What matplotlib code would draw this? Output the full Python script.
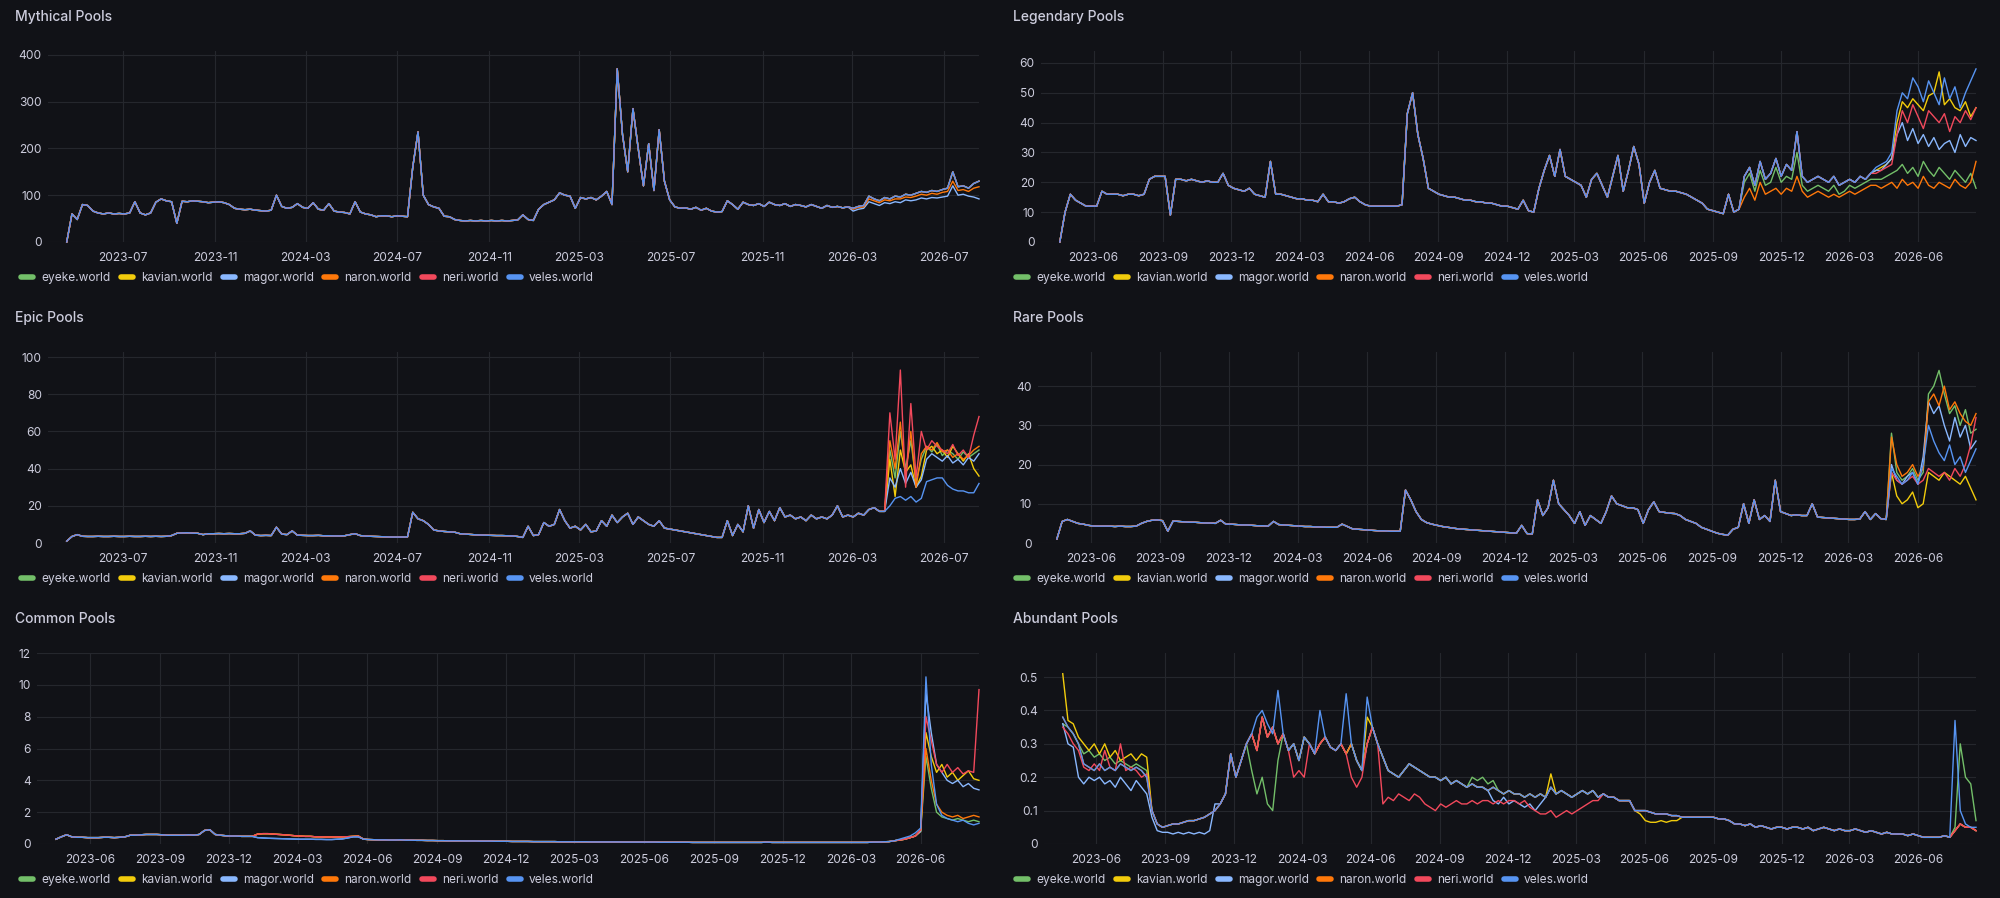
import numpy as np
import pandas as pd
import matplotlib
matplotlib.use("Agg")
import matplotlib.pyplot as plt
import matplotlib.dates as mdates
from matplotlib.lines import Line2D

plt.rcParams["font.family"] = ["Inter", "DejaVu Sans"]

## weekly samples, 2023-04-17 .. 2026-08-17
weeks = pd.date_range("2023-04-17", periods=175, freq="7D")
servers = ["eyeke.world", "kavian.world", "magor.world", "naron.world", "neri.world", "veles.world"]
colors = ["#73BF69", "#F2CC0C", "#8AB8FF", "#FF780A", "#F2495C", "#5794F2"]


def splice(base, start, vals):
    out = list(base)
    out[start:start + len(vals)] = vals
    return out


## ---------------- Mythical ----------------
myth_base = [
    0, 60, 48, 80, 78, 66, 62, 60, 62, 60,
    61, 60, 62, 86, 62, 58, 62, 85, 92, 88,
    86, 40, 87, 86, 88, 87, 86, 84, 85, 86,
    84, 80, 72, 70, 69, 70, 68, 67, 66, 68,
    100, 76, 72, 74, 82, 74, 72, 84, 70, 68,
    82, 66, 64, 63, 60, 86, 64, 60, 58, 54,
    56, 56, 54, 56, 55, 54, 160, 235, 100, 80,
    75, 72, 55, 54, 48, 46, 45, 46, 45, 46,
    45, 46, 45, 46, 45, 46, 47, 58, 48, 46,
    70, 80, 85, 90, 105, 100, 98, 72, 95, 92,
    95, 90, 98, 108, 80, 370, 230, 150, 285, 200,
    120, 210, 110, 240, 130, 90, 75, 72, 73, 70,
    74, 68, 72, 66, 64, 65, 88, 80, 70, 85,
    80, 78, 82, 76, 85, 80, 78, 82, 76, 80,
    78, 75, 80, 76, 72, 78, 74, 76, 73, 75,
    72, 76, 78, 98, 92, 88, 95, 92, 98, 96,
    102, 100, 104, 108, 106, 110, 108, 112, 115, 150,
    118, 120, 115, 125, 130]
myth_magor_tail = [66, 70, 72, 86, 82, 78, 84, 82, 86, 84, 90, 88, 90, 94, 92, 95, 94, 96, 98, 120,
                   100, 102, 98, 96, 92]
myth_naron_tail = [70, 74, 75, 92, 88, 84, 90, 88, 92, 92, 96, 95, 98, 102, 100, 104, 102, 106, 108, 130,
                   110, 112, 108, 115, 118]

## ---------------- Legendary ----------------
leg_base = [
    0, 10, 16, 14, 13, 12, 12, 12, 17, 16,
    16, 16, 15.5, 16, 16, 15.5, 16, 21, 22, 22,
    22, 9, 21, 21, 20.5, 21, 20.5, 20, 20.5, 20,
    20, 23, 19, 18, 17.5, 17, 18, 16, 15.5, 15,
    27, 16, 16, 15.5, 15, 14.5, 14.5, 14, 14, 13.5,
    16, 13.5, 13.5, 13, 13.5, 14.5, 15, 13.5, 12.5, 12,
    12, 12, 12, 12, 12, 12.5, 43, 50, 36, 28,
    18, 17, 16, 15.5, 15, 15, 14.5, 14, 14, 13.5,
    13.5, 13, 13, 12.5, 12, 12, 11.5, 11, 14, 10.5,
    10, 18, 24, 29, 22, 31, 22, 21, 20, 19,
    15, 21, 23, 19, 15, 22, 29, 17, 24, 32,
    26, 13, 20, 24, 18, 17.5, 17, 17, 16.5, 16,
    15, 14, 13, 11, 10.5, 10, 9.5, 16, 10, 11,
    22, 25, 19, 27, 21, 23, 28, 22, 26, 24,
    37, 22, 20, 21, 22, 21, 20, 22, 19, 20,
    21, 20, 22, 21, 23]
leg_naron_mid = [15, 18, 14, 20, 16, 17, 18, 16, 18, 17, 22, 17, 15, 16, 17, 16, 15, 16, 15, 16,
                 17, 16, 17, 18, 19]
leg_eyeke_mid = [20, 23, 17, 24, 19, 20, 25, 20, 22, 21, 30, 19, 17, 18, 19, 18, 17, 19, 16, 17,
                 19, 18, 19, 20, 21]
leg_tails = {
    "eyeke.world": [21, 21, 22, 23, 24, 26, 23, 25, 22, 27, 24, 22, 25, 23, 21, 24, 22, 20, 23, 18],
    "kavian.world": [24, 25, 26, 28, 40, 47, 45, 48, 46, 44, 49, 50, 57, 46, 48, 45, 44, 47, 42, 45],
    "magor.world": [24, 24, 26, 28, 36, 40, 34, 38, 33, 36, 32, 35, 31, 33, 34, 30, 36, 32, 35, 34],
    "naron.world": [19, 18, 19, 20, 18, 21, 19, 20, 18, 22, 19, 18, 20, 19, 18, 21, 19, 18, 20, 27],
    "neri.world": [23, 24, 25, 26, 36, 44, 40, 46, 42, 38, 44, 42, 40, 43, 37, 42, 40, 44, 41, 45],
    "veles.world": [25, 26, 27, 30, 44, 50, 48, 55, 52, 47, 54, 50, 46, 55, 48, 52, 45, 50, 54, 58],
}

## ---------------- Epic ----------------
epic_base = [
    1, 3.5, 4.5, 3.6, 3.5, 3.5, 3.6, 3.5, 3.5, 3.6,
    3.5, 3.5, 3.6, 3.5, 3.5, 3.6, 3.5, 3.6, 3.5, 3.6,
    4, 5.2, 5.4, 5.5, 5.3, 5.2, 4.5, 5, 5, 5.1,
    5, 5.1, 5, 5, 5.2, 6.5, 4.2, 4, 4.1, 4,
    8.5, 4.8, 4.5, 6.5, 4.2, 4.1, 4, 4, 4.1, 3.9,
    3.9, 3.8, 3.8, 3.9, 4.5, 5, 4, 3.7, 3.6, 3.5,
    3.4, 3.3, 3.2, 3.2, 3.2, 3.3, 16.5, 13, 12, 10,
    7, 6.5, 6.2, 6, 5.8, 5, 4.8, 4.6, 4.4, 4.3,
    4.2, 4.1, 4, 4, 3.9, 3.8, 3.5, 3, 9, 4,
    4.5, 11, 9, 10, 18, 12, 8, 9, 7, 10,
    6, 6.5, 12, 9, 15, 11, 14, 16, 10, 14,
    12, 10, 9, 12, 8, 7.5, 7, 6.5, 6, 5.5,
    5, 4.5, 4, 3.5, 3, 3, 12, 4, 10, 6,
    20, 8, 18, 11, 17, 12, 19, 14, 15, 13,
    14, 12, 15, 13, 14, 13, 15, 20, 14, 15,
    14, 16, 15, 18, 19, 17, 17]
epic_tails = {
    "eyeke.world": [50, 35, 60, 40, 55, 33, 45, 52, 49, 53, 47, 50, 48, 45, 49, 46, 48, 50],
    "kavian.world": [45, 25, 50, 38, 42, 30, 36, 50, 52, 48, 50, 46, 52, 48, 44, 48, 40, 36],
    "magor.world": [35, 30, 40, 32, 38, 30, 34, 45, 48, 46, 44, 47, 43, 45, 42, 46, 44, 48],
    "naron.world": [55, 40, 65, 35, 60, 30, 48, 52, 50, 54, 49, 50, 46, 48, 45, 47, 50, 52],
    "neri.world": [70, 45, 93, 30, 75, 35, 60, 50, 55, 52, 50, 48, 53, 47, 50, 46, 58, 68],
    "veles.world": [20, 24, 25, 23, 25, 22, 24, 33, 34, 35, 35, 31, 29, 28, 28, 27, 27, 32],
}

## ---------------- Rare ----------------
rare_base = [
    1, 5.5, 6, 5.5, 5, 4.8, 4.5, 4.3, 4.3, 4.3,
    4.3, 4.2, 4.3, 4.2, 4.2, 4.3, 5, 5.5, 5.8, 5.9,
    5.7, 3, 5.6, 5.5, 5.4, 5.3, 5.3, 5.2, 5.1, 5.1,
    5, 5.8, 4.8, 4.8, 4.7, 4.6, 4.6, 4.5, 4.4, 4.4,
    4.3, 5.5, 4.7, 4.6, 4.5, 4.4, 4.3, 4.2, 4.2, 4.1,
    4.1, 4, 4, 4, 4.8, 4.2, 3.6, 3.5, 3.4, 3.3,
    3.2, 3.1, 3.1, 3, 3, 3, 13.5, 11, 8, 6,
    5.2, 4.8, 4.5, 4.2, 4, 3.8, 3.6, 3.5, 3.4, 3.3,
    3.2, 3.1, 3, 2.9, 2.8, 2.7, 2.6, 2.5, 4.5, 2.4,
    2.3, 11, 7, 9, 16, 10, 8.5, 7, 5, 8,
    4.5, 7, 6, 5, 8, 12, 10, 9.5, 9, 9,
    8.5, 5, 8.5, 10.5, 8, 7.8, 7.6, 7.5, 7, 6,
    5.5, 5, 4, 3.5, 3, 2.5, 2.2, 2, 3.5, 4,
    10, 5, 11, 6, 7, 5.5, 16, 8, 7.5, 7,
    7.2, 7, 7, 10, 6.6, 6.5, 6.4, 6.3, 6.2, 6.1,
    6, 6, 6.1, 8, 6, 7.5, 6.2, 6]
rare_tails = {
    "eyeke.world": [28, 18, 16, 17, 19, 16, 18, 38, 40, 44, 38, 33, 35, 30, 34, 28, 29],
    "kavian.world": [18, 12, 10, 11, 13, 9, 10, 18, 17, 16, 18, 17, 16, 15, 17, 14, 11],
    "magor.world": [20, 16, 15, 17, 18, 15, 22, 36, 33, 35, 30, 26, 32, 27, 30, 24, 26],
    "naron.world": [27, 20, 17, 18, 20, 17, 19, 36, 38, 35, 40, 34, 36, 33, 31, 30, 33],
    "neri.world": [18, 16, 15, 16, 17, 15, 16, 19, 18, 17, 18, 16, 19, 17, 20, 25, 32],
    "veles.world": [19, 17, 15, 16, 18, 15, 20, 30, 26, 23, 21, 25, 20, 22, 18, 21, 24],
}

## ---------------- Common ----------------
common_base = [
    0.3, 0.45, 0.58, 0.45, 0.42, 0.42, 0.4, 0.4, 0.4, 0.42,
    0.42, 0.4, 0.42, 0.45, 0.55, 0.55, 0.58, 0.6, 0.6, 0.6,
    0.58, 0.55, 0.55, 0.55, 0.55, 0.58, 0.55, 0.6, 0.85, 0.9,
    0.6, 0.55, 0.52, 0.5, 0.5, 0.48, 0.48, 0.48, 0.62, 0.65,
    0.65, 0.62, 0.6, 0.58, 0.55, 0.52, 0.5, 0.48, 0.48, 0.45,
    0.45, 0.44, 0.44, 0.45, 0.45, 0.46, 0.48, 0.5, 0.3, 0.28,
    0.27, 0.26, 0.26, 0.25, 0.25, 0.26, 0.24, 0.24, 0.23, 0.23,
    0.22, 0.22, 0.21, 0.21, 0.2, 0.2, 0.2, 0.19, 0.19, 0.19,
    0.18, 0.18, 0.18, 0.17, 0.17, 0.17, 0.16, 0.16, 0.16, 0.16,
    0.15, 0.15, 0.15, 0.15, 0.15, 0.14, 0.14, 0.14, 0.14, 0.14,
    0.14, 0.13, 0.13, 0.13, 0.13, 0.13, 0.13, 0.12, 0.12, 0.12,
    0.12, 0.12, 0.12, 0.12, 0.11, 0.11, 0.11, 0.11, 0.11, 0.11,
    0.1, 0.1, 0.1, 0.1, 0.1, 0.1, 0.1, 0.1, 0.1, 0.1,
    0.1, 0.1, 0.1, 0.1, 0.12, 0.1, 0.1, 0.1, 0.1, 0.1,
    0.1, 0.1, 0.1, 0.1, 0.1, 0.1, 0.1, 0.1, 0.1, 0.1,
    0.1, 0.1, 0.1, 0.1, 0.12, 0.12, 0.14]
common_veles_mid = [0.4, 0.38, 0.36, 0.35, 0.34, 0.33, 0.32, 0.31, 0.3, 0.3,
                    0.3, 0.29, 0.29, 0.28, 0.28, 0.3, 0.32, 0.38, 0.45, 0.45]
common_tails = {
    "eyeke.world": [0.15, 0.2, 0.25, 0.3, 0.4, 0.5, 0.8, 5.5, 3.5, 2, 1.7, 1.6, 1.5, 1.6, 1.5, 1.4, 1.5, 1.4],
    "kavian.world": [0.15, 0.2, 0.25, 0.3, 0.4, 0.5, 0.8, 7, 5.5, 4.5, 5, 4.2, 4.5, 4, 4.3, 4.6, 4.1, 4],
    "magor.world": [0.15, 0.2, 0.25, 0.3, 0.4, 0.5, 0.8, 9.5, 7, 5, 4.5, 4, 3.8, 4, 3.6, 3.8, 3.5, 3.4],
    "naron.world": [0.15, 0.2, 0.25, 0.3, 0.4, 0.5, 0.9, 6, 4, 2.5, 2, 1.8, 1.7, 1.8, 1.6, 1.7, 1.8, 1.7],
    "neri.world": [0.15, 0.2, 0.25, 0.3, 0.4, 0.5, 0.9, 8, 6.5, 5, 4.5, 5, 4.5, 4.8, 4.4, 4.6, 4.5, 9.7],
    "veles.world": [0.15, 0.2, 0.3, 0.4, 0.5, 0.7, 1.0, 10.5, 5, 2.5, 1.8, 1.6, 1.5, 1.4, 1.5, 1.3, 1.2, 1.3],
}

## ---------------- Abundant ----------------
ab_base = [
    0.38, 0.35, 0.33, 0.3, 0.24, 0.23, 0.22, 0.24, 0.22, 0.23,
    0.22, 0.24, 0.23, 0.22, 0.23, 0.22, 0.2, 0.1, 0.06, 0.05,
    0.055, 0.06, 0.06, 0.065, 0.07, 0.07, 0.075, 0.08, 0.09, 0.1,
    0.12, 0.15, 0.27, 0.2, 0.25, 0.3, 0.33, 0.28, 0.38, 0.32,
    0.35, 0.3, 0.33, 0.28, 0.3, 0.25, 0.32, 0.3, 0.27, 0.3,
    0.32, 0.29, 0.28, 0.3, 0.27, 0.3, 0.25, 0.22, 0.3, 0.35,
    0.3, 0.26, 0.22, 0.21, 0.2, 0.22, 0.24, 0.23, 0.22, 0.21,
    0.2, 0.2, 0.19, 0.2, 0.18, 0.19, 0.18, 0.17, 0.18, 0.17,
    0.17, 0.16, 0.17, 0.16, 0.15, 0.16, 0.15, 0.15, 0.14, 0.15,
    0.14, 0.15, 0.14, 0.17, 0.15, 0.16, 0.15, 0.14, 0.15, 0.16,
    0.15, 0.16, 0.14, 0.15, 0.14, 0.14, 0.13, 0.13, 0.13, 0.1,
    0.1, 0.1, 0.095, 0.09, 0.09, 0.09, 0.085, 0.085, 0.08, 0.08,
    0.08, 0.08, 0.08, 0.08, 0.08, 0.075, 0.075, 0.07, 0.06, 0.06,
    0.055, 0.06, 0.05, 0.055, 0.05, 0.045, 0.05, 0.05, 0.045, 0.05,
    0.05, 0.045, 0.05, 0.04, 0.045, 0.05, 0.045, 0.04, 0.045, 0.04,
    0.04, 0.045, 0.04, 0.035, 0.04, 0.035, 0.03, 0.035, 0.03, 0.03,
    0.03, 0.025, 0.03, 0.025, 0.02, 0.02, 0.02, 0.02, 0.025, 0.02,
    0.04, 0.06, 0.05, 0.05, 0.04]
ab_kavian_start = [0.51, 0.37, 0.36, 0.32, 0.3, 0.28, 0.3, 0.27, 0.3, 0.26, 0.28, 0.25, 0.26, 0.27, 0.25, 0.27, 0.26]
ab_kavian_late = [0.09, 0.07, 0.065, 0.065, 0.07, 0.065, 0.07, 0.07]
ab_eyeke_start = [0.36, 0.35, 0.33, 0.3, 0.27, 0.28, 0.26, 0.27, 0.25, 0.26, 0.24, 0.25, 0.24, 0.23, 0.24, 0.23, 0.22]
ab_eyeke_dip = [0.22, 0.15, 0.2, 0.12, 0.1, 0.25, 0.33]
ab_eyeke_mid = [0.2, 0.19, 0.2, 0.18, 0.19]
ab_eyeke_end = [0.05, 0.3, 0.2, 0.18, 0.07]
ab_magor_start = [0.36, 0.3, 0.29, 0.2, 0.18, 0.2, 0.19, 0.2, 0.18, 0.19,
                  0.17, 0.2, 0.18, 0.16, 0.19, 0.17, 0.15, 0.08, 0.04, 0.035,
                  0.035, 0.03, 0.035, 0.03, 0.035, 0.03, 0.035, 0.03, 0.04, 0.12]
ab_magor_mid = [0.13, 0.12, 0.14, 0.12, 0.13, 0.12, 0.11, 0.12, 0.1, 0.12]
ab_neri_start = [0.35, 0.33, 0.3, 0.28, 0.23, 0.22, 0.24, 0.22, 0.28, 0.23, 0.22, 0.3, 0.22, 0.23, 0.22, 0.2, 0.21]
ab_neri_mid = [0.12, 0.14, 0.13, 0.15, 0.14, 0.13, 0.15, 0.14, 0.12, 0.11,
               0.1, 0.12, 0.11, 0.12, 0.13, 0.12, 0.12, 0.13, 0.12, 0.13,
               0.13, 0.12, 0.13, 0.12, 0.13, 0.13, 0.12, 0.13, 0.11, 0.1,
               0.09, 0.09, 0.1, 0.08, 0.09, 0.1, 0.09, 0.1, 0.11, 0.12,
               0.13, 0.13]
ab_veles_spikes = [0.38, 0.4, 0.36, 0.33, 0.46]
ab_veles_end = [0.37, 0.1, 0.06, 0.05, 0.05]

## ---- assemble series ----
mythical = {s: list(myth_base) for s in servers}
mythical["magor.world"] = splice(myth_base, 150, myth_magor_tail)
mythical["naron.world"] = splice(myth_base, 150, myth_naron_tail)

legendary = {s: leg_base + leg_tails[s] for s in servers}
legendary["naron.world"] = splice(legendary["naron.world"], 130, leg_naron_mid)
legendary["eyeke.world"] = splice(legendary["eyeke.world"], 130, leg_eyeke_mid)

epic = {s: epic_base + epic_tails[s] for s in servers}
rare = {s: rare_base + rare_tails[s] for s in servers}
common = {s: common_base + common_tails[s] for s in servers}
common["veles.world"] = splice(common["veles.world"], 38, common_veles_mid)
common["magor.world"] = splice(common["magor.world"], 38, common_veles_mid)

abundant = {s: list(ab_base) for s in servers}
k = splice(ab_base, 0, ab_kavian_start)
k = splice(k, 58, [0.38])
k = splice(k, 93, [0.21])
abundant["kavian.world"] = splice(k, 110, ab_kavian_late)
e = splice(ab_base, 0, ab_eyeke_start)
e = splice(e, 36, ab_eyeke_dip)
e = splice(e, 78, ab_eyeke_mid)
abundant["eyeke.world"] = splice(e, 170, ab_eyeke_end)
m = splice(ab_base, 0, ab_magor_start)
abundant["magor.world"] = splice(m, 82, ab_magor_mid)
n = splice(ab_base, 0, ab_neri_start)
n = splice(n, 44, [0.2, 0.22, 0.2])
n = splice(n, 55, [0.2, 0.17, 0.2])
abundant["neri.world"] = splice(n, 61, ab_neri_mid)
v = splice(ab_base, 37, ab_veles_spikes)
v = splice(v, 49, [0.4])
v = splice(v, 54, [0.45])
v = splice(v, 58, [0.44])
abundant["veles.world"] = splice(v, 170, ab_veles_end)

## (title, data, left px, right px, row offset px, ymax, ystep, tick months)
panels = [
    ("Mythical Pools", mythical, 48, 979, 0, 408, 100, (3, 7, 11)),
    ("Legendary Pools", legendary, 1041, 1976, 0, 64, 10, (3, 6, 9, 12)),
    ("Epic Pools", epic, 48, 979, 301, 102.7, 20, (3, 7, 11)),
    ("Rare Pools", rare, 1038, 1976, 301, 48.7, 10, (3, 6, 9, 12)),
    ("Common Pools", common, 37, 979, 602, 12, 2, (3, 6, 9, 12)),
    ("Abundant Pools", abundant, 1044, 1976, 602, 0.572, 0.1, (3, 6, 9, 12)),
]

BG = "#111217"
TXT = "#ccccdc"
GRID = "#25272d"
W, H = 2000, 898

fig = plt.figure(figsize=(20, 8.98), dpi=100, facecolor=BG)

for title, data, lpx, rpx, off, ymax, ystep, months in panels:
    top = 51 + off
    zero = 242 + off
    ax = fig.add_axes([lpx / W, 1 - zero / H, (rpx - lpx) / W, (zero - top) / H])
    ax.set_facecolor(BG)
    for s, c in zip(servers, colors):
        vals = data[s]
        assert len(vals) == len(weeks), (title, s, len(vals))
        ax.plot(weeks, vals, color=c, lw=1.0, clip_on=False)
    ax.set_xlim(pd.Timestamp("2023-03-23"), pd.Timestamp("2026-08-17"))
    ax.set_ylim(0, ymax)
    ax.set_yticks(np.arange(0, ymax + 1e-9, ystep))
    ax.yaxis.set_major_formatter(plt.FuncFormatter(lambda v, p: "%g" % round(v, 3)))
    ax.xaxis.set_major_locator(mdates.MonthLocator(bymonth=months))
    ax.xaxis.set_major_formatter(mdates.DateFormatter("%Y-%m"))
    ax.grid(True, color=GRID, lw=0.8)
    ax.set_axisbelow(True)
    for sp in ax.spines.values():
        sp.set_visible(False)
    ax.tick_params(axis="both", length=0, colors=TXT, labelsize=8.6)
    ax.tick_params(axis="y", pad=4.5)
    ax.tick_params(axis="x", pad=7)

    tx = 15 if lpx < 500 else 1013
    fig.text(tx / W, 1 - (17 + off) / H, title, color=TXT, fontsize=10,
             fontweight="medium", va="center", ha="left")

    handles = [Line2D([], [], color=c, lw=4, solid_capstyle="round") for c in colors]
    lx = 21 if lpx < 500 else 1016
    leg = fig.legend(handles, servers, loc="center left",
                     bbox_to_anchor=(lx / W, 1 - (278 + off) / H),
                     ncol=6, frameon=False, fontsize=8.6, handlelength=1.0,
                     handletextpad=0.7, columnspacing=0.85, borderpad=0, borderaxespad=0)
    for t in leg.get_texts():
        t.set_color(TXT)

fig.savefig("out.png", dpi=100, facecolor=BG)
